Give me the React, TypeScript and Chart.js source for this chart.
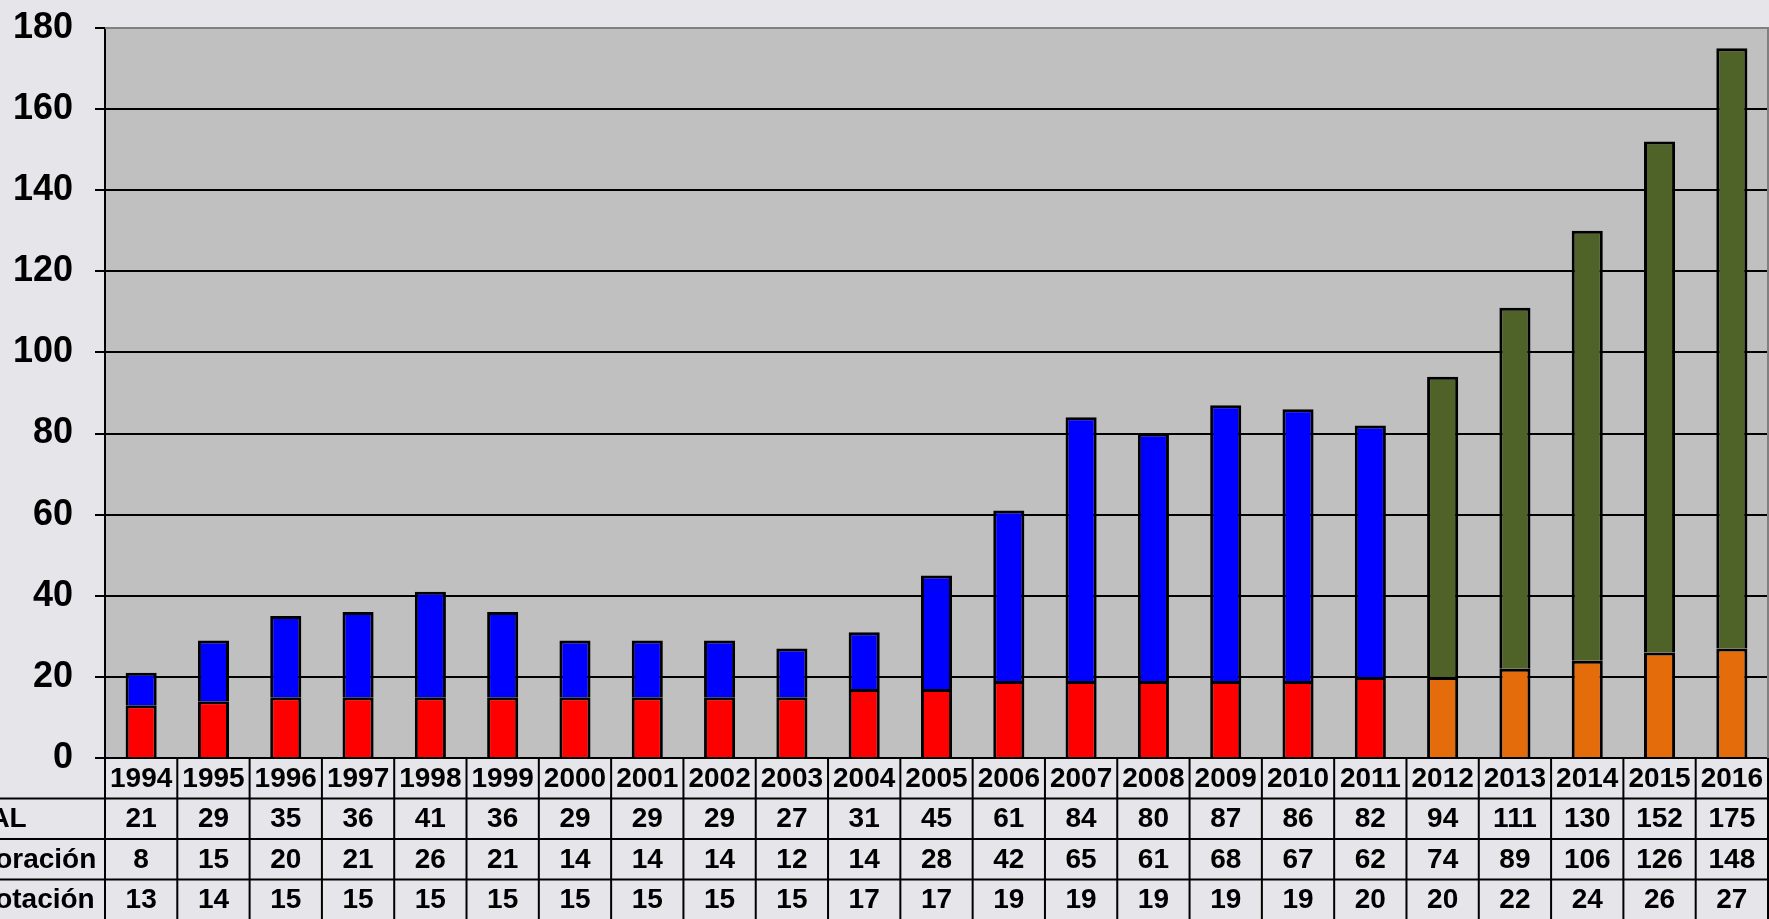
import React, { useEffect, useRef } from "react";
import { Chart, registerables } from "chart.js";
Chart.register(...registerables);

const years = ["1994","1995","1996","1997","1998","1999","2000","2001","2002","2003","2004","2005","2006","2007","2008","2009","2010","2011","2012","2013","2014","2015","2016"];
const totals = [21,29,35,36,41,36,29,29,29,27,31,45,61,84,80,87,86,82,94,111,130,152,175];
const exploracion = [8,15,20,21,26,21,14,14,14,12,14,28,42,65,61,68,67,62,74,89,106,126,148];
const explotacion = [13,14,15,15,15,15,15,15,15,15,17,17,19,19,19,19,19,20,20,22,24,26,27];
const rowLabels = ["TOTAL", "Exploración", "Explotación"];
const yMin = 0;
const yMax = 180;
const yStep = 20;
const splitYear = "2012";

const FONT = "'Liberation Sans', Arial, sans-serif";

export default function App() {
  const ref = useRef<HTMLCanvasElement | null>(null);

  useEffect(() => {
    document.body.style.margin = "0";
    const canvas = ref.current;
    if (!canvas) return;
    const splitIdx = years.indexOf(splitYear);
    const bottomColors = years.map((_, i) => (i < splitIdx ? "#FF0000" : "#E46C0A"));
    const topColors = years.map((_, i) => (i < splitIdx ? "#0000FF" : "#4F6228"));

    const tablePlugin = {
      id: "tablePlugin",
      beforeDraw(chart: any) {
        const ctx = chart.ctx;
        const a = chart.chartArea;
        ctx.save();
        ctx.fillStyle = "#E6E6EA";
        ctx.fillRect(0, 0, chart.width, chart.height);
        ctx.fillStyle = "#C0C0C0";
        ctx.fillRect(a.left, a.top, a.right - a.left, a.bottom - a.top);
        ctx.restore();
      },
      afterDraw(chart: any) {
        const ctx = chart.ctx;
        const a = chart.chartArea;
        const xs = chart.scales.x;
        const n = years.length;
        const catW = n > 1 ? xs.getPixelForValue(1) - xs.getPixelForValue(0) : a.right - a.left;
        const rowH = 40.5;
        const top = a.bottom;
        ctx.save();
        // plot border (top/right)
        ctx.strokeStyle = "#808080";
        ctx.lineWidth = 2;
        ctx.beginPath();
        ctx.moveTo(a.left, a.top);
        ctx.lineTo(a.right, a.top);
        ctx.lineTo(a.right, a.bottom);
        ctx.stroke();
        // table lines
        ctx.strokeStyle = "#000";
        ctx.lineWidth = 2;
        ctx.beginPath();
        for (let k = 1; k <= 3; k++) {
          const y = top + k * rowH;
          ctx.moveTo(0, y);
          ctx.lineTo(a.right, y);
        }
        for (let i = 0; i <= n; i++) {
          const xb = xs.getPixelForValue(i) - catW / 2;
          ctx.moveTo(xb, top);
          ctx.lineTo(xb, chart.height);
        }
        ctx.stroke();
        // text
        ctx.fillStyle = "#000";
        ctx.font = `bold 28px ${FONT}`;
        ctx.textBaseline = "middle";
        ctx.textAlign = "center";
        const rows = [totals, exploracion, explotacion];
        years.forEach((yr, i) => {
          const cx = xs.getPixelForValue(i);
          ctx.fillText(yr, cx, top + rowH / 2 + 1);
          rows.forEach((r, k) => {
            ctx.fillText(String(r[i]), cx, top + (k + 1) * rowH + rowH / 2 + 1);
          });
        });
        ctx.textAlign = "left";
        rowLabels.forEach((lbl, k) => {
          ctx.fillText(lbl, -64, top + (k + 1) * rowH + rowH / 2 + 1);
        });
        ctx.restore();
      },
    };

    const chart = new Chart(canvas, {
      type: "bar",
      data: {
        labels: years,
        datasets: [
          {
            label: "Explotación",
            data: explotacion,
            backgroundColor: bottomColors,
            borderColor: "#000",
            borderWidth: 3,
            stack: "s",
          },
          {
            label: "Exploración",
            data: exploracion,
            backgroundColor: topColors,
            borderColor: "#000",
            borderWidth: 3,
            stack: "s",
          },
        ],
      },
      options: {
        responsive: false,
        animation: false,
        devicePixelRatio: 1,
        layout: { padding: { top: 28, left: 0, right: 1, bottom: 161 } },
        plugins: { legend: { display: false }, tooltip: { enabled: false } },
        datasets: { bar: { categoryPercentage: 1, barPercentage: 0.43 } },
        scales: {
          x: {
            display: false,
            stacked: true,
          },
          y: {
            stacked: true,
            min: yMin,
            max: yMax,
            afterFit(scale: any) {
              scale.width = 105;
              scale.paddingTop = 0;
              scale.paddingBottom = 0;
            },
            ticks: {
              stepSize: yStep,
              padding: 22,
              color: "#000",
              font: { family: FONT, size: 36, weight: "bold" },
            },
            grid: {
              color: (c: any) => (c.tick && c.tick.value === yMax ? "#808080" : "#000"),
              tickColor: "#000",
              lineWidth: 2,
              tickLength: 10,
              drawTicks: true,
            },
            border: { display: true, color: "#000", width: 2 },
          },
        },
      },
      plugins: [tablePlugin],
    } as any);
    return () => chart.destroy();
  }, []);

  return (
    <div style={{ width: 1769, height: 919, overflow: "hidden" }}>
      <canvas ref={ref} width={1769} height={919} style={{ display: "block" }} />
    </div>
  );
}
